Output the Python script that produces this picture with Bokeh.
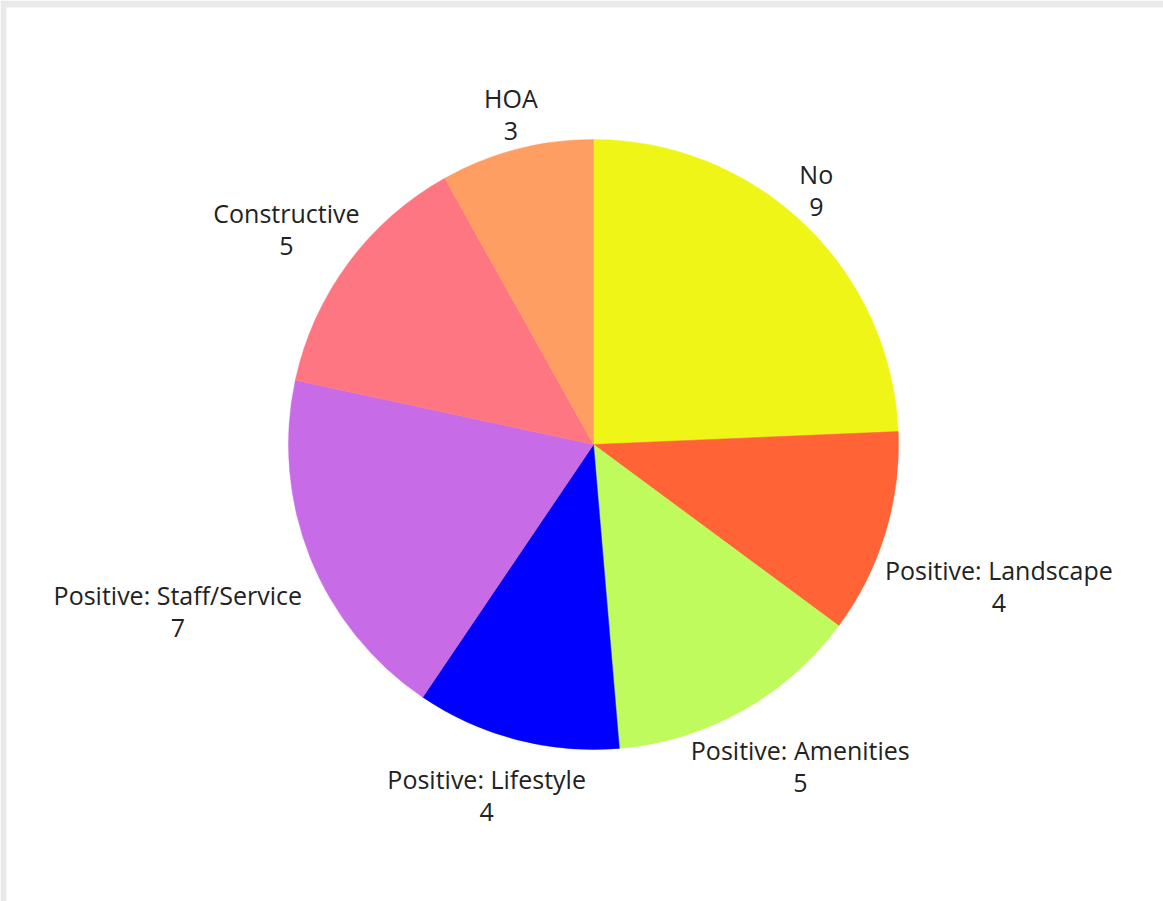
import math
from bokeh.plotting import figure
from bokeh.models import ColumnDataSource, Range1d
from bokeh.core.properties import value
from bokeh.embed import file_html
from bokeh.resources import INLINE

categories = ["No", "Positive: Landscape", "Positive: Amenities", "Positive: Lifestyle",
              "Positive: Staff/Service", "Constructive", "HOA"]
counts = [9, 4, 5, 4, 7, 5, 3]
colors = ["#F0F518", "#FF6336", "#BFFB5C", "#0000FF", "#C86BE6", "#FF7683", "#FF9E62"]

W, H = 1163, 901
cx, cy, R = 593, 457, 305
FONT = "Open Sans"
FS = 25

total = sum(counts)
starts, ends, mids = [], [], []
acc = 0
for c in counts:
    a0 = math.pi / 2 - 2 * math.pi * acc / total
    acc += c
    a1 = math.pi / 2 - 2 * math.pi * acc / total
    starts.append(a1)
    ends.append(a0)
    mids.append((a0 + a1) / 2)

src = ColumnDataSource(dict(start=starts, end=ends, color=colors, cat=categories))

p = figure(width=W, height=H, output_backend="svg", toolbar_location=None,
           x_range=Range1d(0, W), y_range=Range1d(0, H),
           min_border=0, frame_width=W, frame_height=H)
p.border_fill_color = "white"
p.background_fill_color = "white"
p.outline_line_color = None
p.axis.visible = False
p.grid.visible = False

# decorative page frame (light grey strips at top and left)
p.quad(left=[0, 0], right=[W, 6], bottom=[H - 7, 0], top=[H, H],
       fill_color="#e9e9e9", line_color=None)

p.wedge(x=cx, y=cy, radius=R, start_angle="start", end_angle="end",
        fill_color="color", line_color="color", line_width=0.5, source=src)

def text_w(s):
    return len(s) * FS * 0.48

lx, ly, vx, vy, labs, vals = [], [], [], [], [], []
Rl = 310
for cat, c, m in zip(categories, counts, mids):
    dx, dy = math.cos(m), math.sin(m)
    w = text_w(cat)
    bx = cx + Rl * dx + (w / 2) * dx
    by = cy + Rl * dy + (31 if dy > 0 else -51)
    lx.append(bx); ly.append(by + 16)
    vx.append(bx); vy.append(by - 17)
    labs.append(cat); vals.append(str(c))

lsrc = ColumnDataSource(dict(lx=lx, ly=ly, vx=vx, vy=vy, lab=labs, val=vals))
p.text(x="lx", y="ly", text="lab", source=lsrc, text_align="center", text_baseline="middle",
       text_font=value(FONT), text_font_size=f"{FS}px", text_color="#222222")
p.text(x="vx", y="vy", text="val", source=lsrc, text_align="center", text_baseline="middle",
       text_font=value(FONT), text_font_size=f"{FS}px", text_color="#222222")

open("out.html", "w").write(file_html(p, INLINE))
